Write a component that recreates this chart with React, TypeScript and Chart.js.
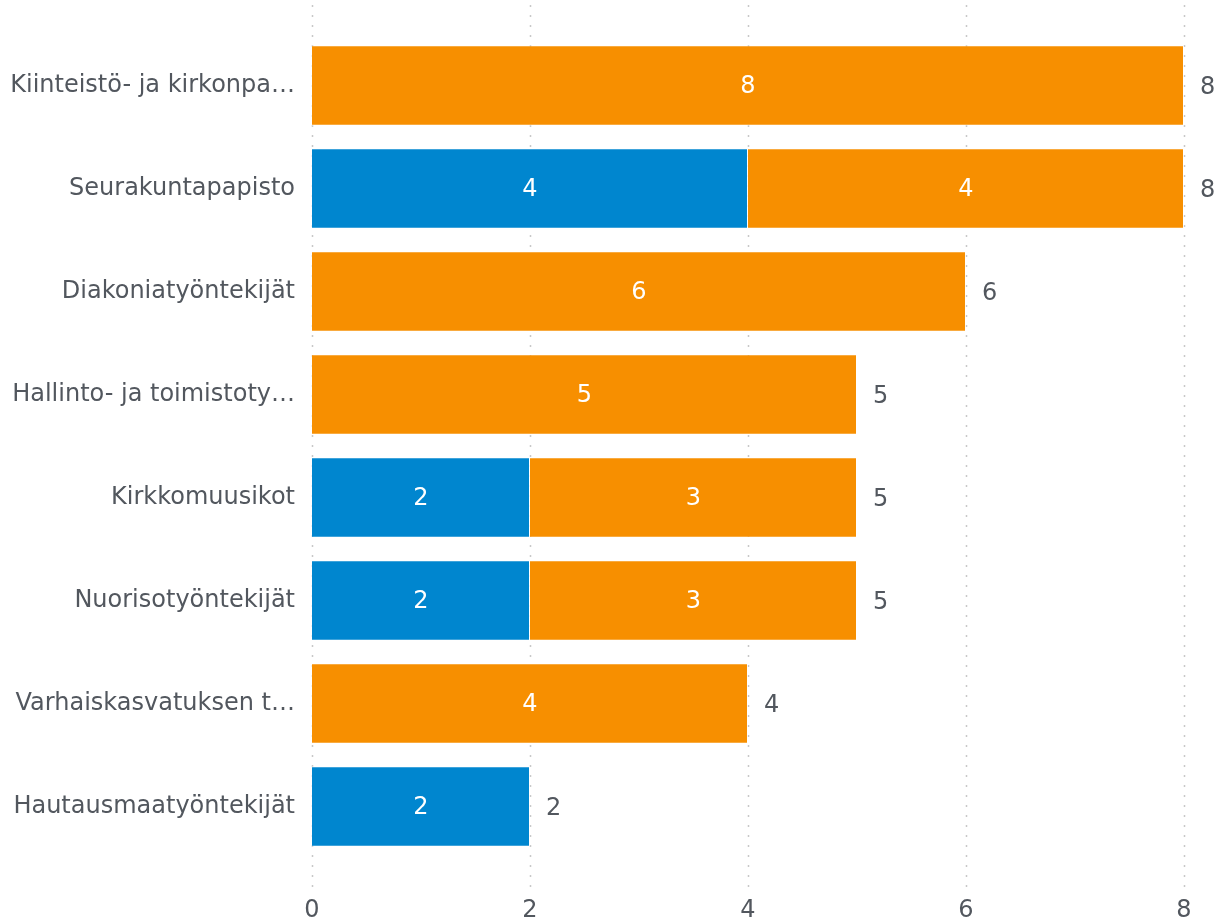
import React, { useEffect, useRef } from "react";
import { Chart, registerables } from "chart.js";

Chart.register(...registerables);

const categories = [
  "Kiinteistö- ja kirkonpa…",
  "Seurakuntapapisto",
  "Diakoniatyöntekijät",
  "Hallinto- ja toimistoty…",
  "Kirkkomuusikot",
  "Nuorisotyöntekijät",
  "Varhaiskasvatuksen t…",
  "Hautausmaatyöntekijät",
];
const blueValues: (number | null)[] = [null, 4, null, null, 2, 2, null, 2];
const orangeValues: (number | null)[] = [8, 4, 6, 5, 3, 3, 4, null];
const xTicks = [0, 2, 4, 6, 8];

const FONT = "DejaVu Sans, Verdana, sans-serif";
const FONT_SIZE = 24;
const TEXT = "#52575e";

const gridPlugin = {
  id: "dottedGrid",
  beforeDatasetsDraw(chart: any) {
    const { ctx, chartArea, scales } = chart;
    ctx.save();
    ctx.strokeStyle = "#c8c8c8";
    ctx.lineWidth = 1.5;
    ctx.setLineDash([2, 8]);
    xTicks.forEach((v) => {
      const x = Math.round(scales.x.getPixelForValue(v)) + 0.5;
      ctx.beginPath();
      ctx.moveTo(x, chartArea.top - 29);
      ctx.lineTo(x, chartArea.bottom + 32);
      ctx.stroke();
    });
    ctx.restore();
  },
};

const labelPlugin = {
  id: "barLabels",
  afterDatasetsDraw(chart: any) {
    const { ctx, scales } = chart;
    ctx.save();
    ctx.font = `${FONT_SIZE}px ${FONT}`;
    ctx.textBaseline = "middle";
    ctx.textAlign = "center";
    chart.data.datasets.forEach((ds: any, di: number) => {
      const meta = chart.getDatasetMeta(di);
      meta.data.forEach((el: any, i: number) => {
        const v = ds.data[i];
        if (v == null) return;
        const props = el.getProps(["x", "y", "base"], true);
        ctx.fillStyle = "#ffffff";
        ctx.fillText(String(v), (props.x + props.base) / 2, props.y + 1);
      });
    });
    ctx.textAlign = "left";
    ctx.fillStyle = TEXT;
    categories.forEach((_, i) => {
      const total = (blueValues[i] ?? 0) + (orangeValues[i] ?? 0);
      const x = scales.x.getPixelForValue(total) + 16;
      const y = scales.y.getPixelForValue(i);
      ctx.fillText(String(total), x, y + 2);
    });
    ctx.restore();
  },
};

export default function App() {
  const ref = useRef<HTMLCanvasElement>(null);
  useEffect(() => {
    if (!ref.current) return;
    const chart = new Chart(ref.current, {
      type: "bar",
      data: {
        labels: categories,
        datasets: [
          {
            label: "A",
            data: blueValues,
            backgroundColor: "#0086cf",
            borderColor: "rgba(255,255,255,0.5)",
            borderWidth: 1,
            barPercentage: 0.78,
            categoryPercentage: 1,
          },
          {
            label: "B",
            data: orangeValues,
            backgroundColor: "#f78f00",
            borderColor: "rgba(255,255,255,0.5)",
            borderWidth: 1,
            barPercentage: 0.78,
            categoryPercentage: 1,
          },
        ],
      },
      options: {
        indexAxis: "y",
        animation: false,
        responsive: false,
        maintainAspectRatio: false,
        layout: { padding: { top: 34, right: 38, left: 0, bottom: 0 } },
        plugins: { legend: { display: false }, tooltip: { enabled: false } },
        scales: {
          x: {
            stacked: true,
            min: 0,
            max: 8,
            border: { display: false },
            grid: { display: false, drawTicks: false },
            ticks: {
              stepSize: 2,
              padding: 38,
              color: TEXT,
              font: { family: FONT, size: FONT_SIZE },
            },
            afterFit: (s: any) => {
              s.height = 65;
              s.paddingRight = 0;
            },
          },
          y: {
            stacked: true,
            border: { display: false },
            grid: { display: false, drawTicks: false },
            ticks: {
              padding: 17,
              color: TEXT,
              font: { family: FONT, size: FONT_SIZE },
            },
            afterFit: (s: any) => {
              s.width = 312;
            },
          },
        },
      },
      plugins: [gridPlugin, labelPlugin],
    });
    return () => chart.destroy();
  }, []);
  return (
    <div style={{ position: "fixed", left: 0, top: 0, width: 1222, height: 923, background: "#fff" }}>
      <canvas ref={ref} width={1222} height={923} style={{ width: 1222, height: 923 }} />
    </div>
  );
}
